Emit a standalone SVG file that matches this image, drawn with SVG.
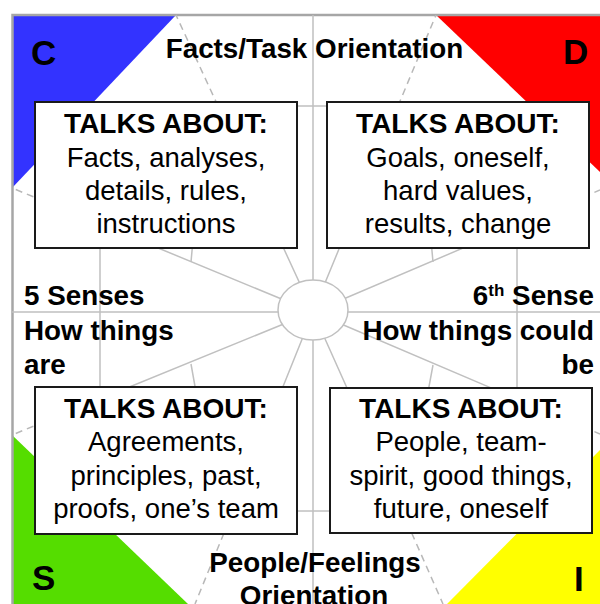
<svg xmlns="http://www.w3.org/2000/svg" width="600" height="604" viewBox="0 0 600 604">
<style>
.g{stroke:#c0c0c0;stroke-width:1.5;fill:none}
.d{stroke:#b8b8b8;stroke-width:1.5;stroke-dasharray:7 5;fill:none}
.f{stroke:#a6a6a6;stroke-width:2.5;fill:none}
.box{fill:#fff;stroke:#1a1a1a;stroke-width:2}
text{font-family:"Liberation Sans",Arial,Helvetica,sans-serif;fill:#000}
.t{font-size:27.5px;text-anchor:middle}
.b{font-weight:bold;font-size:28px}
.h{font-size:27.8px;font-weight:bold}
.L{font-size:35px;font-weight:bold}
</style>
<rect width="600" height="604" fill="#fff"/>
<g id="corners">
<polygon points="12,15 176,15 12,188" fill="#3333ff"/>
<polygon points="436,15 600,15 600,172" fill="#ff0000"/>
<polygon points="12,435 12,604 188,604" fill="#55dd00"/>
<polygon points="600,450 600,604 447,604" fill="#ffff00"/>
</g>
<g id="connectors">
<path class="f" d="M12.5,604 V15 H600"/>
<rect class="g" x="100" y="106" width="417" height="405"/>
<path class="g" d="M313,15 V604 M12,312 H600"/>
<path class="g" d="M313,312 L100,224 M313,312 L218,106 M313,312 L398,106 M313,312 L517,225 M313,312 L100,399 M313,312 L233,511 M313,312 L402,511 M313,312 L517,399"/>
<path class="d" d="M100,224 L12,188 M218,106 L176,15 M398,106 L436,15 M517,225 L600,190 M100,399 L12,435 M233,511 L195,604 M402,511 L443,604 M517,399 L600,434"/>
<path class="g" d="M191,262 L193,240 M433,262 L431,240 M191,364 L196,392 M433,365 L428,392"/>
<ellipse cx="313" cy="310" rx="35" ry="30" fill="#fff" stroke="#c0c0c0" stroke-width="1.5"/>
</g>
<g id="box-c">
<rect class="box" x="35" y="102" width="262" height="146"/>
<text class="t b" x="166" y="133">TALKS ABOUT:</text>
<text class="t" x="166" y="167">Facts, analyses,</text>
<text class="t" x="166" y="200">details, rules,</text>
<text class="t" x="166" y="233">instructions</text>
</g>
<g id="box-d">
<rect class="box" x="327" y="102" width="262" height="146"/>
<text class="t b" x="458" y="133">TALKS ABOUT:</text>
<text class="t" x="458" y="167">Goals, oneself,</text>
<text class="t" x="458" y="200">hard values,</text>
<text class="t" x="458" y="233">results, change</text>
</g>
<g id="box-s">
<rect class="box" x="35" y="387" width="262" height="147"/>
<text class="t b" x="166" y="418">TALKS ABOUT:</text>
<text class="t" x="166" y="451">Agreements,</text>
<text class="t" x="166" y="485">principles, past,</text>
<text class="t" x="166" y="518">proofs, one’s team</text>
</g>
<g id="box-i">
<rect class="box" x="330" y="388" width="262" height="145"/>
<text class="t b" x="461" y="418">TALKS ABOUT:</text>
<text class="t" x="461" y="451">People, team-</text>
<text class="t" x="461" y="485">spirit, good things,</text>
<text class="t" x="461" y="518">future, oneself</text>
</g>
<g id="labels">
<text class="h" x="314.5" y="58" text-anchor="middle">Facts/Task Orientation</text>
<text class="h" x="315" y="572" text-anchor="middle">People/Feelings</text>
<text class="h" x="314" y="605" text-anchor="middle">Orientation</text>
<text class="h" x="24" y="305">5 Senses</text>
<text class="h" x="24" y="340">How things</text>
<text class="h" x="24" y="374">are</text>
<text class="h" x="594" y="305" text-anchor="end">6<tspan font-size="17" dy="-9">th</tspan><tspan dy="9"> Sense</tspan></text>
<text class="h" x="594" y="340" text-anchor="end">How things could</text>
<text class="h" x="594" y="374" text-anchor="end">be</text>
</g>
<g id="letters">
<text class="L" x="31" y="65">C</text>
<text class="L" x="563" y="64">D</text>
<text class="L" x="32" y="590">S</text>
<text class="L" x="574" y="591">I</text>
</g>
</svg>
